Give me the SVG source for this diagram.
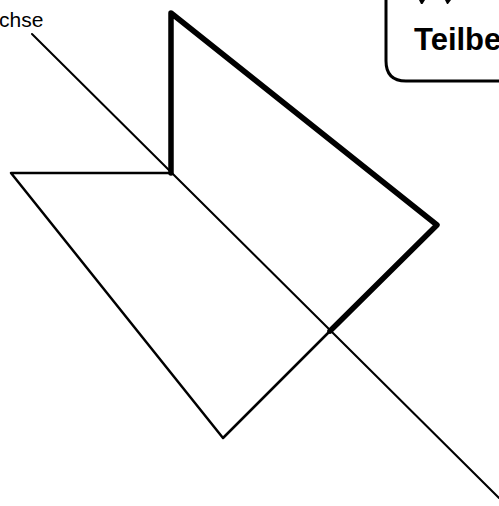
<svg xmlns="http://www.w3.org/2000/svg" width="499" height="506" viewBox="0 0 499 506">
<style>
.l{fill:none;stroke:#000;stroke-linecap:round;stroke-linejoin:round}
.thin{stroke-width:2}
.mid{stroke-width:2.5}
.thick{stroke-width:5.500}
text{font-family:"Liberation Sans",Arial,sans-serif;fill:#000}
</style>
<rect width="499" height="506" fill="#fff"/>
<g id="connectors">
<path id="achse" class="l thin" d="M32 34L499 498"/>
<path id="thin-outline" class="l mid" d="M330 331L223 438L11 173L171 173"/>
<path id="thick-outline" class="l thick" d="M171 173L171 13L437 225L330 331"/>
</g>
<g id="label-achse"><text x="-1" y="27" font-size="21">chse</text></g>
<g id="box">
<path class="l" stroke-width="3" d="M386 -5V61Q386 81 406 81H504"/>
<text x="414" y="49.500" font-size="31" font-weight="700">Teilbe</text>
<path d="M419 0H425L422.500 4H421ZM445 0H451L448 4H447Z"/>
</g>
</svg>
